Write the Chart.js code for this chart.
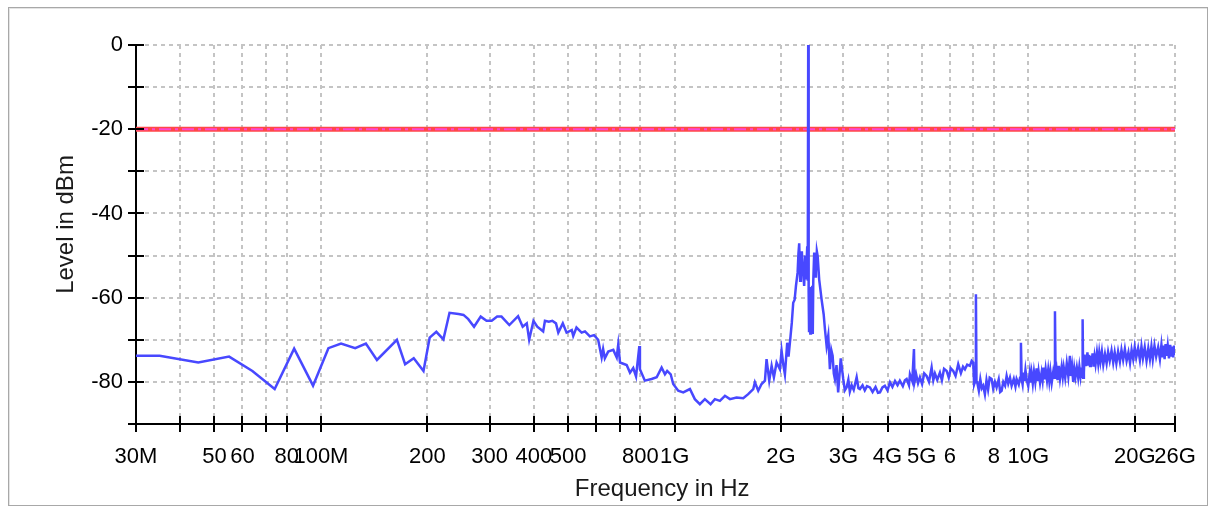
<!DOCTYPE html>
<html>
<head>
<meta charset="utf-8">
<script src="https://cdn.jsdelivr.net/npm/chart.js@4"></script>
<style>
  html, body { margin: 0; padding: 0; background: #fff; }
  #frame {
    position: absolute; left: 8px; top: 7px; width: 1198px; height: 497px;
    border: 1px solid #a8a8a8; box-shadow: inset 1px 1px 0 #e4e4e4;
  }
  #wrap { position: absolute; left: 0; top: 0; width: 1216px; height: 507px; }
</style>
</head>
<body>
<div id="frame"></div>
<div id="wrap"><canvas id="myChart" width="1216" height="507"></canvas></div>
<script>
var ctx = document.getElementById("myChart").getContext("2d");

// spectrum trace, frequency in MHz / level in dBm
const freqMHz = [
  30, 35, 45, 55, 64, 74, 84, 95, 105, 114, 125, 134, 144, 164, 173, 183, 195,
  203, 212, 222, 231, 245, 253, 261, 271, 283, 294, 304, 315, 324, 341, 361,
  372, 382, 388, 399, 409, 425, 430, 441, 451, 462, 469, 483, 495, 512, 517,
  528, 546, 558, 576, 592, 608, 622, 628, 635, 649, 671, 686, 693, 701, 732,
  748, 764, 778, 795, 798, 824, 861, 890, 919, 939, 953, 975, 991, 1024, 1058,
  1105, 1141, 1179, 1218, 1264, 1300, 1343, 1388, 1434, 1497, 1564, 1615, 1669,
  1687, 1724, 1762, 1801, 1820, 1852, 1881, 1909, 1943, 1985, 2007, 2029, 2051,
  2082, 2100, 2128, 2145, 2165, 2185, 2204, 2228, 2240, 2251, 2265, 2276, 2290,
  2302, 2315, 2325, 2340, 2351, 2372, 2380, 2387, 2394, 2400, 2410, 2420, 2430,
  2441, 2450, 2459, 2467, 2482, 2496, 2510, 2525, 2538, 2564, 2604, 2640, 2662,
  2691, 2720, 2749, 2775, 2798, 2820, 2840, 2870, 2901, 2950, 2998, 3030, 3066,
  3100, 3130, 3168, 3210, 3272, 3310, 3342, 3400, 3450, 3500, 3568, 3630, 3700,
  3760, 3808, 3870, 3932, 4000, 4064, 4130, 4200, 4270, 4335, 4420, 4480, 4530,
  4600, 4629, 4700, 4752, 4770, 4820, 4880, 4940, 5010, 5080, 5160, 5240, 5331,
  5390, 5447, 5530, 5627, 5700, 5780, 5880, 5960, 6040, 6136, 6230, 6339, 6450,
  6540, 6621, 6720, 6839, 6920, 6990, 7030, 7080, 7113, 7140, 7173, 7250, 7320,
  7390, 7459, 7541, 7620, 7700, 7780, 7878, 7960, 8050, 8138, 8250, 8330, 8408,
  8500, 8600, 8687, 8780, 8880, 8975, 9100, 9200, 9271, 9400, 9480, 9535, 9580,
  9639, 9700, 9750, 9820, 9893, 10000, 10100, 10160, 10221, 10300, 10380, 10470,
  10560, 10640, 10700, 10800, 10907, 10980, 11050, 11120, 11200, 11300, 11387,
  11470, 11550, 11650, 11768, 11850, 11900, 11950, 12033, 12100, 12200, 12300,
  12429, 12520, 12600, 12720, 12850, 12980, 13118, 13200, 13300, 13401, 13500,
  13600, 13720, 13844, 13950, 14050, 14130, 14200, 14248, 14300, 14366, 14430,
  14500, 14560, 14624, 14700, 14780, 14850, 14950, 15030, 15106, 15200, 15300,
  15400, 15500, 15640, 15771, 15880, 16000, 16150, 16300, 16480, 16656, 16820,
  17000, 17200, 17389, 17560, 17750, 17950, 18163, 18350, 18550, 18760, 18972,
  19200, 19400, 19600, 19804, 20000, 20200, 20450, 20689, 20900, 21100, 21350,
  21600, 21850, 22082, 22300, 22500, 22750, 23000, 23300, 23568, 23800, 24000,
  24150, 24300, 24450, 24621, 24800, 25000, 25200, 25400, 25550, 25698, 25850,
  26000
];
const levelDbm = [
  -73.8, -73.8, -75.4, -74.0, -77.4, -81.7, -72.1, -80.9, -72.0, -70.9, -72.0, -70.9, -74.8, -70.0, -75.8, -74.4, -77.4,
  -69.5, -68.1, -69.9, -63.6, -63.9, -64.1, -65.1, -66.9, -64.5, -65.5, -65.5, -64.5, -64.5, -66.5, -64.4,
  -66.9, -66.1, -70.0, -65.5, -66.9, -68.0, -65.5, -65.7, -65.5, -66.1, -68.3, -66.1, -68.3, -67.7, -69.1,
  -67.1, -68.3, -68.0, -69.2, -68.9, -70.0, -74.2, -72.2, -74.4, -72.8, -72.4, -74.2, -71.1, -75.4, -76.0,
  -77.8, -76.7, -78.7, -71.5, -77.0, -79.7, -79.3, -78.9, -76.6, -78.2, -77.4, -78.2, -80.5, -82.1, -82.5,
  -81.7, -84.1, -85.3, -84.1, -85.3, -84.1, -84.5, -83.3, -84.1, -83.7, -83.9, -82.9, -81.7,
  -80.1, -82.1, -80.5, -79.7, -74.6, -79.7, -76.2, -78.9, -75.4, -77.0, -72.6, -75.8, -78.2,
  -70.7, -74.0, -69.1, -66.0, -61.2, -60.5, -57.2, -54.0, -49.5, -47.1, -56.0, -54.9, -49.0,
  -52.5, -55.0, -57.2, -50.0, -55.7, -47.8, -56.0, 0, -58.8, -67.9, -57.5, -68.5, -58.0,
  -68.3, -57.2, -68.6, -56.0, -49.3, -55.0, -54.1, -49.0, -50.1, -55.7, -60.4, -64.0, -67.5,
  -71.5, -69.0, -77.0, -72.5, -73.8, -78.0, -79.3, -76.0, -82.5, -74.4, -79.3, -82.0, -81.3,
  -79.5, -82.3, -80.8, -81.9, -78.9, -81.5, -81.7, -80.8, -82.0, -81.0, -81.3, -82.4, -81.2,
  -82.6, -82.5, -81.3, -80.9, -82.0, -80.1, -81.2, -79.8, -80.8, -79.7, -81.0, -79.6, -79.3,
  -80.8, -78.2, -79.8, -72.2, -80.0, -78.2, -80.3, -78.9, -80.5, -78.0, -78.6, -80.0, -76.6,
  -79.6, -78.0, -79.5, -77.8, -79.6, -76.9, -77.4, -79.0, -76.8, -77.4, -78.6, -75.8, -77.9,
  -76.4, -77.0, -75.9, -76.2, -75.0, -75.4, -80.6, -79.8, -59.2, -80.1, -80.1, -82.1, -79.4,
  -81.5, -80.9, -82.9, -79.6, -81.8, -79.0, -79.3, -81.6, -80.0, -81.3, -79.4, -82.4, -82.1,
  -80.0, -80.9, -78.6, -80.4, -79.0, -80.9, -79.3, -81.1, -79.3, -80.6, -79.0, -70.7, -79.4,
  -80.6, -77.8, -79.8, -77.2, -79.4, -81.0, -77.8, -80.2, -78.0, -80.4, -77.6, -80.0,
  -76.8, -79.8, -77.6, -80.2, -77.8, -79.6, -76.6, -79.4, -77.0, -79.6, -77.2,
  -79.8, -77.4, -80.2, -77.6, -79.0, -63.2, -79.0, -77.4, -79.6, -76.2, -79.2,
  -76.4, -78.8, -76.6, -79.0, -75.6, -78.6, -73.8, -78.6, -76.4, -80.0, -76.8,
  -78.8, -76.6, -79.0, -76.4, -78.6, -76.6, -78.8, -65.1, -79.0, -77.8, -73.5,
  -76.0, -74.2, -75.8, -73.0, -75.9, -73.6, -76.2, -73.8, -75.6, -73.2, -76.4,
  -74.0, -75.8, -73.0, -75.6, -73.0, -75.2, -72.8, -75.9, -73.4, -75.6, -72.9,
  -75.0, -72.6, -75.4, -73.0, -75.6, -72.8, -75.2, -72.4, -74.8, -72.2, -75.0,
  -73.0, -75.5, -72.4, -74.6, -71.8, -74.2, -72.0, -74.8, -71.6, -74.4, -71.8,
  -75.0, -72.0, -74.6, -71.6, -74.6, -71.4, -74.0, -71.8, -74.6, -71.2, -74.2,
  -71.4, -74.6, -71.0, -73.8, -71.4, -74.4, -71.2, -74.0, -71.6, -74.2, -71.4,
  -73.6
];

// limit line
const limitFreqMHz = [30, 26000];
const limitDbm = [-20, -20];

// axis ticks
const xTickValues = [30, 40, 50, 60, 70, 80, 100, 200, 300, 400, 500, 600, 700, 800,
  1000, 2000, 3000, 4000, 5000, 6000, 7000, 8000, 10000, 20000, 26000];
const xTickLabels = ["30M", "", "50", "60", "", "80", "100M", "200", "300", "400", "500", "", "", "800",
  "1G", "2G", "3G", "4G", "5G", "6", "", "8", "10G", "20G", "26G"];
const yTickLabels = { "0": "0", "-20": "-20", "-40": "-40", "-60": "-60", "-80": "-80" };

function toPoints(xs, ys) {
  return xs.map((x, i) => ({ x: x, y: ys[i] }));
}

// tick marks that cross the axis line on both sides
const crossTicks = {
  id: "crossTicks",
  afterDraw(chart) {
    const c = chart.ctx;
    const xs = chart.scales.x;
    const ys = chart.scales.y;
    const L = 8;
    c.save();
    c.strokeStyle = "#000";
    c.lineWidth = 2;
    c.beginPath();
    xs.ticks.forEach((t) => {
      const px = Math.round(xs.getPixelForValue(t.value));
      c.moveTo(px, xs.top - L);
      c.lineTo(px, xs.top + L);
    });
    ys.ticks.forEach((t) => {
      const py = Math.round(ys.getPixelForValue(t.value));
      c.moveTo(ys.right - L, py);
      c.lineTo(ys.right + L, py);
    });
    c.stroke();
    c.restore();
  },
};

Chart.defaults.font.family = "'Liberation Sans', Arial, sans-serif";
Chart.defaults.color = "#000";

new Chart(ctx, {
  type: "line",
  data: {
    datasets: [
      {
        data: toPoints(freqMHz, levelDbm),
        borderColor: "rgb(72, 72, 255)",
        borderWidth: 2.5,
        pointRadius: 0,
        tension: 0,
        order: 0,
      },
      {
        data: toPoints(limitFreqMHz, limitDbm),
        borderColor: "rgb(255, 70, 210)",
        borderWidth: 2,
        borderDash: [12, 4, 3, 4],
        pointRadius: 0,
        order: 1,
      },
      {
        data: toPoints(limitFreqMHz, limitDbm),
        borderColor: "rgb(255, 72, 72)",
        borderWidth: 5,
        pointRadius: 0,
        order: 2,
      },
    ],
  },
  options: {
    responsive: false,
    animation: false,
    events: [],
    layout: { padding: { top: 45, right: 41, left: 0, bottom: 0 } },
    plugins: { legend: { display: false }, tooltip: { enabled: false } },
    scales: {
      x: {
        type: "logarithmic",
        min: 30,
        max: 26000,
        afterBuildTicks(scale) {
          scale.ticks = xTickValues.map((v) => ({ value: v }));
        },
        afterFit(scale) {
          scale.height = 83;
        },
        ticks: {
          autoSkip: false,
          maxRotation: 0,
          padding: 20,
          font: { size: 22 },
          callback(value) {
            const i = xTickValues.indexOf(value);
            return i >= 0 ? xTickLabels[i] : "";
          },
        },
        grid: {
          color: "#c4c4c4",
          lineWidth: 2,
          drawTicks: false,
        },
        border: { display: true, color: "#000", width: 2, dash: [4, 4] },
        title: {
          display: true,
          text: "  Frequency in Hz",
          font: { size: 24 },
          color: "#1a1a1a",
          padding: { top: 0, bottom: 3 },
        },
      },
      y: {
        min: -90,
        max: 0,
        afterFit(scale) {
          scale.width = 136;
        },
        ticks: {
          stepSize: 10,
          padding: 13,
          font: { size: 22 },
          callback(value) {
            return yTickLabels[String(value)] || "";
          },
        },
        grid: {
          color: "#c4c4c4",
          lineWidth: 2,
          drawTicks: false,
        },
        border: { display: true, color: "#000", width: 2, dash: [4, 4] },
        title: {
          display: true,
          text: "   Level in dBm",
          font: { size: 24 },
          color: "#1a1a1a",
          padding: { top: 52, bottom: 0 },
        },
      },
    },
  },
  plugins: [crossTicks],
});
</script>
</body>
</html>
